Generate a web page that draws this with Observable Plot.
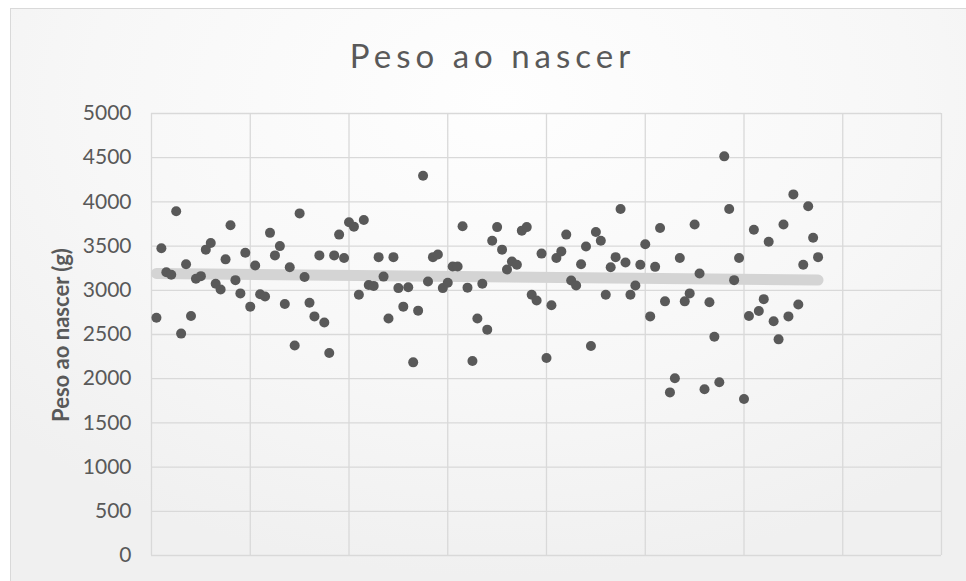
<!DOCTYPE html>
<html>
<head>
<meta charset="utf-8">
<script src="https://cdn.jsdelivr.net/npm/d3@7"></script>
<script src="https://cdn.jsdelivr.net/npm/@observablehq/plot@0.6"></script>
<style>
  html, body { margin: 0; padding: 0; background: #ffffff; width: 966px; height: 581px; overflow: hidden; }
  #frame {
    position: absolute; left: 10px; top: 8px; width: 980px; height: 600px;
    border: 1px solid #d9d9d9; box-sizing: border-box;
    background: radial-gradient(ellipse 70% 80% at 50% 15%, #fefefe 0%, #f7f7f7 60%, #f0f0f0 100%);
  }
  #title {
    position: absolute; left: 0; top: 35px; width: 980px; text-align: center;
    font-family: Lato, "Open Sans", sans-serif; font-size: 33px; line-height: 40px;
    letter-spacing: 5px; text-indent: 5px; color: #595959;
  }
  #ylabel {
    position: absolute; left: 60px; top: 335px;
    transform: translate(-50%, -50%) rotate(-90deg);
    font-family: Lato, "Open Sans", sans-serif; font-weight: bold; font-size: 22px;
    white-space: nowrap; color: #595959;
  }
  #chart { position: absolute; left: 0; top: 0; }
</style>
</head>
<body>
<div id="frame"></div>
<div id="title">Peso ao nascer</div>
<div id="ylabel">Peso ao nascer (g)</div>
<div id="chart"></div>
<script>
// Birth order (index of each observation)
const births = d3.range(1, 136);
// Birth weight in grams
const weights = [
  2690, 3475, 3205, 3175, 3895, 2510, 3295, 2710, 3130, 3160,
  3460, 3535, 3075, 3010, 3350, 3735, 3115, 2965, 3425, 2815,
  3280, 2955, 2930, 3650, 3395, 3500, 2845, 3260, 2375, 3870,
  3150, 2860, 2705, 3395, 2635, 2290, 3395, 3630, 3365, 3770,
  3720, 2950, 3795, 3060, 3050, 3375, 3155, 2680, 3375, 3025,
  2815, 3035, 2185, 2770, 4295, 3100, 3375, 3405, 3025, 3085,
  3270, 3270, 3725, 3030, 2200, 2680, 3075, 2555, 3560, 3715,
  3460, 3235, 3325, 3290, 3675, 3715, 2950, 2885, 3415, 2235,
  2830, 3365, 3440, 3630, 3110, 3055, 3295, 3495, 2370, 3660,
  3560, 2950, 3260, 3375, 3920, 3315, 2950, 3055, 3290, 3520,
  2705, 3265, 3705, 2875, 1845, 2005, 3365, 2875, 2965, 3745,
  3190, 1880, 2865, 2475, 1960, 4515, 3920, 3115, 3365, 1770,
  2710, 3685, 2765, 2900, 3550, 2650, 2445, 3745, 2705, 4085,
  2840, 3290, 3950, 3595, 3375
];
// Axis ticks
const yTicks = d3.range(0, 5001, 500);
const xGrid = d3.range(0, 161, 20);

const data = births.map((b, i) => ({x: b, y: weights[i]}));

const chart = Plot.plot({
  width: 966,
  height: 581,
  marginLeft: 151,
  marginRight: 25,
  marginTop: 113,
  marginBottom: 26,
  style: {background: "transparent", fontFamily: "Lato, 'Open Sans', sans-serif", fontSize: "21px", color: "#595959", overflow: "visible"},
  x: {domain: [0, 160], axis: null},
  y: {domain: [0, 5000], axis: null},
  marks: [
    Plot.gridY(yTicks, {stroke: "#d9d9d9", strokeOpacity: 1, strokeWidth: 1.3}),
    Plot.gridX(xGrid, {stroke: "#d9d9d9", strokeOpacity: 1, strokeWidth: 1.3}),
    Plot.axisY(yTicks, {tickSize: 0, tickPadding: 20, fill: "#595959", fontSize: 21, label: null, tickFormat: d3.format("d")}),
    Plot.linearRegressionY(data, {x: "x", y: "y", ci: 0, stroke: "#d4d4d4", strokeWidth: 11, strokeLinecap: "round", strokeOpacity: 1}),
    Plot.dot(data, {x: "x", y: "y", r: 5, fill: "#595959", stroke: "none"})
  ]
});
document.getElementById("chart").appendChild(chart);
</script>
</body>
</html>
